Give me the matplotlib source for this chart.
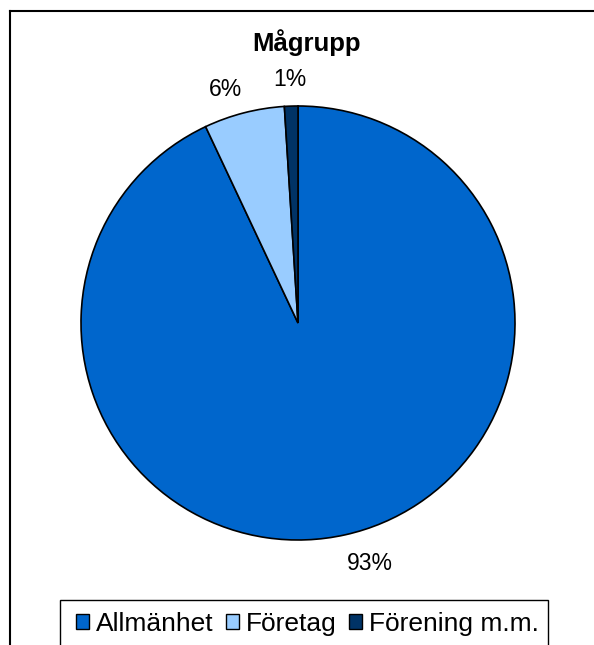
import matplotlib
matplotlib.use("Agg")
import matplotlib.pyplot as plt
from matplotlib.patches import Rectangle, Patch
from matplotlib.lines import Line2D

categories = ["Allmänhet", "Företag", "Förening m.m."]
values = [93, 6, 1]
colors = ["#0066CC", "#99CCFF", "#003366"]
title = "Mågrupp"

W, H = 594, 645
fig = plt.figure(figsize=(W / 100, H / 100), dpi=100)
plt.rcParams['font.family'] = ['Liberation Sans', 'DejaVu Sans']

# outer chart-area border (top and left visible; right/bottom cropped)
fig.add_artist(Line2D([9.5 / W, 1.0], [1 - 10.5 / H, 1 - 10.5 / H], transform=fig.transFigure,
                      color="black", lw=1.5))
fig.add_artist(Line2D([9.5 / W, 9.5 / W], [1 - 10.5 / H, 0.0], transform=fig.transFigure,
                      color="black", lw=1.5))

# pie axes
cx, cy, r = 298, 323, 217
ax = fig.add_axes([(cx - r) / W, (H - cy - r) / H, 2 * r / W, 2 * r / H])
wedges, texts, autotexts = ax.pie(values, colors=colors, startangle=90, counterclock=False,
                                  autopct=lambda p: f"{p:.0f}%", pctdistance=1.13,
                                  wedgeprops=dict(edgecolor="black", linewidth=1.2),
                                  textprops=dict(fontsize=16.5, color="black"))
# Excel-style label nudges (pixels)
nudges = [(18, -1), (-12, -4), (0, -2)]
for t, (dx, dy) in zip(autotexts, nudges):
    x, y = t.get_position()
    t.set_position((x + dx / r, y + dy / r))
ax.set_xlim(-1, 1)
ax.set_ylim(-1, 1)
ax.set_aspect("equal")
ax.axis("off")

fig.text(307 / W, 1 - 51 / H, title, ha="center", va="baseline", fontsize=18.5, fontweight="bold")

# legend frame
fig.add_artist(Rectangle((60 / W, -0.05), (548 - 60) / W, 0.05 + (1 - 600 / H),
                         transform=fig.transFigure, facecolor="white", edgecolor="black", lw=1.0))
handles = [Patch(facecolor=c, edgecolor="black", linewidth=1.0) for c in colors]
leg = fig.legend(handles, categories, loc="center left", bbox_to_anchor=(76 / W, 1 - 624 / H),
                 ncol=3, frameon=False, fontsize=19, handlelength=0.5, handleheight=0.5,
                 handletextpad=0.26, columnspacing=0.46, borderpad=0, borderaxespad=0)

fig.savefig("out.png", dpi=100)
